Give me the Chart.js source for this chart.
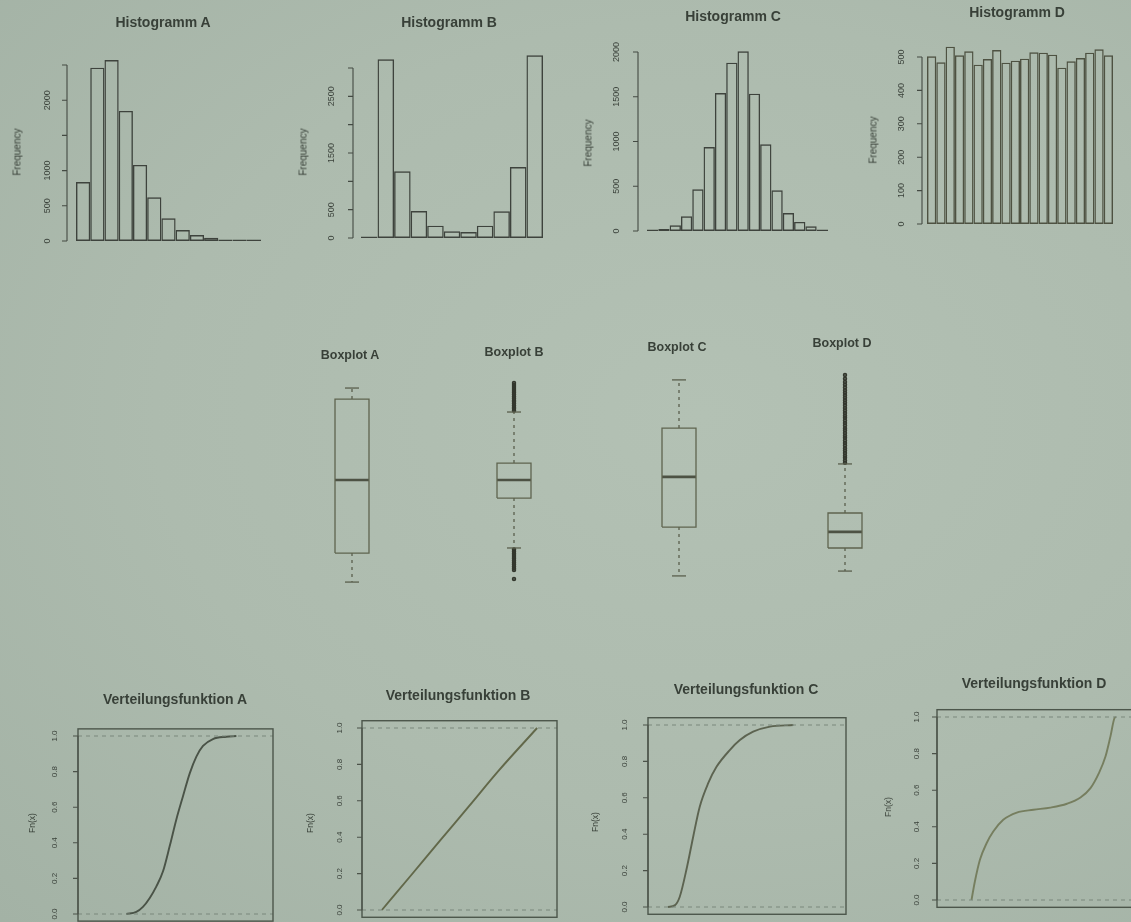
<!DOCTYPE html>
<html><head><meta charset="utf-8">
<script src="https://cdn.jsdelivr.net/npm/chart.js@4.4.1/dist/chart.umd.min.js"></script>
<style>
html,body{margin:0;padding:0;width:1131px;height:922px;overflow:hidden;background:#aab9ab;}
#stage{position:relative;width:1131px;height:922px;overflow:hidden;
  background:radial-gradient(ellipse at 62% 45%, #b3c1b4 0%, #adbbae 55%, #a3b2a5 100%);filter:blur(0.45px);}
canvas{position:absolute;}
.t{position:absolute;transform:translate(-50%,-50%);white-space:nowrap;font-family:"Liberation Sans",Arial,sans-serif;color:#384038;}
.title{font-weight:bold;font-size:14px;}
.btitle{font-weight:bold;font-size:12.5px;}
.ylab{font-size:10px;transform:translate(-50%,-50%) rotate(-90deg);}
.ylab2{font-size:8.5px;transform:translate(-50%,-50%) rotate(-90deg);}
</style></head><body><div id="stage"></div>
<script>
// ---------------- DATA ----------------
// Histogram counts (bins are equal width)
const histA_bins = ["1","2","3","4","5","6","7","8","9","10","11","12","13"];
const histA_counts = [838, 2462, 2571, 1847, 1080, 620, 322, 156, 85, 45, 20, 9, 4];
const histA_ticks = [0, 500, 1000, 1500, 2000, 2500];
const histA_tickLabels = ["0", "500", "1000", "", "2000", ""];

const histB_bins = ["1","2","3","4","5","6","7","8","9","10","11"];
const histB_counts = [10, 3153, 1176, 476, 218, 118, 105, 218, 470, 1253, 3223];
const histB_ticks = [0, 500, 1000, 1500, 2000, 2500, 3000];
const histB_tickLabels = ["0", "500", "", "1500", "", "2500", ""];

const histC_bins = ["1","2","3","4","5","6","7","8","9","10","11","12","13","14","15","16"];
const histC_counts = [3, 22, 63, 164, 466, 938, 1542, 1881, 2007, 1534, 968, 454, 201, 101, 52, 15];
const histC_ticks = [0, 500, 1000, 1500, 2000];
const histC_tickLabels = ["0", "500", "1000", "1500", "2000"];

const histD_bins = ["1","2","3","4","5","6","7","8","9","10","11","12","13","14","15","16","17","18","19","20"];
const histD_counts = [502, 484, 531, 505, 517, 477, 494, 521, 483, 489, 495, 514, 513, 507, 468, 487, 497, 513, 523, 505];
const histD_ticks = [0, 100, 200, 300, 400, 500];
const histD_tickLabels = ["0", "100", "200", "300", "400", "500"];

// Boxplots: [lower whisker, Q1, median, Q3, upper whisker] (relative units 0..100)
const boxA_stats = [3.6, 16.8, 50.0, 86.8, 91.8];
const boxA_outliers = [];
const boxB_stats = [19.1, 41.8, 50.0, 57.7, 80.9];
const boxB_outliers = [81.6, 82.4, 83.1, 83.9, 84.8, 85.6, 86.3, 87.2, 88.0, 88.9, 89.7, 90.5, 91.4, 92.3, 93.2, 94.1,
                       18.4, 17.6, 16.7, 15.9, 15.0, 14.2, 13.3, 12.4, 11.6, 10.7, 9.9, 9.1, 5.0];
const boxC_stats = [6.4, 28.6, 51.4, 73.6, 95.5];
const boxC_outliers = [];
const boxD_stats = [8.6, 19.1, 26.4, 35.0, 57.3];
const boxD_outliers = [57.8, 58.9, 60.1, 61.0, 62.3, 63.4, 64.4, 65.7, 66.8, 67.9, 69.2, 70.1, 71.4, 72.6, 73.5,
                       74.8, 75.9, 77.0, 78.3, 79.2, 80.5, 81.6, 82.7, 84.0, 85.1, 86.2, 87.4, 88.5, 89.7, 90.8,
                       92.0, 93.3, 94.6, 96.0, 97.7];

// Empirical distribution functions (x in relative units 0..100, Fn(x))
const cdfA_x = [24.8, 29.9, 33.3, 36.8, 40.2, 43.6, 47.0, 50.4, 53.8, 57.3, 60.7, 64.1, 69.2, 76.1, 81.2];
const cdfA_F = [0.0, 0.012, 0.04, 0.09, 0.155, 0.24, 0.38, 0.53, 0.66, 0.79, 0.884, 0.944, 0.983, 0.996, 1.0];
const cdfB_x = [10.2, 25.5, 40.1, 55.0, 70.2, 89.8];
const cdfB_F = [0.0, 0.195, 0.382, 0.572, 0.767, 1.0];
const cdfC_x = [10.1, 13.5, 16.0, 19.7, 22.8, 26.1, 30.4, 34.6, 41.3, 46.4, 53.1, 61.6, 73.4];
const cdfC_F = [0.0, 0.009, 0.055, 0.22, 0.385, 0.55, 0.68, 0.77, 0.862, 0.917, 0.963, 0.991, 1.0];
const cdfD_x = [17.6, 19.3, 21.9, 25.3, 28.7, 33.8, 40.7, 49.2, 57.8, 66.3, 73.2, 78.3, 82.6, 86.0, 88.5, 90.6, 91.3];
const cdfD_F = [0.0, 0.10, 0.22, 0.31, 0.374, 0.438, 0.478, 0.493, 0.505, 0.526, 0.56, 0.611, 0.693, 0.785, 0.894, 0.995, 1.0];
const cdf_ticks = [0, 0.2, 0.4, 0.6, 0.8, 1.0];
const cdf_tickLabels = ["0.0", "0.2", "0.4", "0.6", "0.8", "1.0"];

// Texts
const histTitles = ["Histogramm A", "Histogramm B", "Histogramm C", "Histogramm D"];
const boxTitles = ["Boxplot A", "Boxplot B", "Boxplot C", "Boxplot D"];
const cdfTitles = ["Verteilungsfunktion A", "Verteilungsfunktion B", "Verteilungsfunktion C", "Verteilungsfunktion D"];
const histYLabel = "Frequency";
const cdfYLabel = "Fn(x)";

// ---------------- LAYOUT / STYLE ----------------
const stage = document.getElementById('stage');
const FONT = '"Liberation Sans", Arial, sans-serif';
const TEXT = '#3a413a';

function makeCanvas(area, m){
  const x = Math.round(area.l - m.l), y = Math.round(area.t - m.t);
  const w = Math.ceil(area.r + m.r - x), h = Math.ceil(area.b + m.b - y);
  const c = document.createElement('canvas');
  c.width = w; c.height = h;
  c.style.left = x + 'px'; c.style.top = y + 'px';
  c.style.width = w + 'px'; c.style.height = h + 'px';
  stage.appendChild(c);
  return {c, padding:{left: area.l - x, top: area.t - y, right: x + w - area.r, bottom: y + h - area.b}};
}

function rAxisPlugin(o){
  return {id:'rAxis', afterDatasetsDraw(chart){
    const y = chart.scales.y, ctx = chart.ctx, a = chart.chartArea;
    const ax = a.left - o.gap;
    ctx.save();
    if (o.frame){
      ctx.strokeStyle = o.frame; ctx.lineWidth = 1.4;
      ctx.strokeRect(a.left, a.top, a.right - a.left, a.bottom - a.top);
    }
    ctx.strokeStyle = o.color; ctx.lineWidth = 1.1;
    ctx.beginPath();
    ctx.moveTo(ax, y.getPixelForValue(o.ticks[0]));
    ctx.lineTo(ax, y.getPixelForValue(o.ticks[o.ticks.length - 1]));
    o.ticks.forEach(v => { const p = y.getPixelForValue(v); ctx.moveTo(ax, p); ctx.lineTo(ax - o.tickLen, p); });
    ctx.stroke();
    ctx.fillStyle = TEXT; ctx.font = o.font; ctx.textAlign = 'center'; ctx.textBaseline = 'middle';
    o.ticks.forEach((v, i) => {
      const lab = o.labels[i]; if (!lab) return;
      const p = y.getPixelForValue(v);
      ctx.save(); ctx.translate(ax - o.labelDist, p); ctx.rotate(-Math.PI / 2); ctx.fillText(lab, 0, 0); ctx.restore();
    });
    ctx.restore();
  }};
}

function baseOptions(padding, xs, ys){
  return {responsive:false, animation:false, events:[],
    layout:{padding},
    plugins:{legend:{display:false}, tooltip:{enabled:false}, title:{display:false}},
    scales:{x:xs, y:ys}};
}

// Histograms
const HIST_LAYOUT = [
  {x0:76,  x1:261,  y0:241, refVal:2500, refPx:65, yMax:2700, gap:9, labelDist:19, color:'#3e433d'},
  {x0:361, x1:543,  y0:238, refVal:3000, refPx:68, yMax:3300, gap:8, labelDist:21, color:'#3e433d'},
  {x0:647, x1:828,  y0:231, refVal:2000, refPx:52, yMax:2150, gap:9, labelDist:21, color:'#3e433d'},
  {x0:927, x1:1113, y0:224, refVal:500,  refPx:57, yMax:560,  gap:5, labelDist:20, color:'#4e5242'}
];
const histData = [
  [histA_bins, histA_counts, histA_ticks, histA_tickLabels],
  [histB_bins, histB_counts, histB_ticks, histB_tickLabels],
  [histC_bins, histC_counts, histC_ticks, histC_tickLabels],
  [histD_bins, histD_counts, histD_ticks, histD_tickLabels]
];
histData.forEach((d, i) => {
  const L = HIST_LAYOUT[i];
  const top = L.y0 - (L.y0 - L.refPx) / L.refVal * L.yMax;
  const cv = makeCanvas({l:L.x0, r:L.x1, t:top, b:L.y0}, {l:70, t:10, r:10, b:10});
  new Chart(cv.c, {
    type:'bar',
    data:{labels:d[0], datasets:[{data:d[1], backgroundColor:'rgba(0,0,0,0)', borderColor:L.color,
      borderWidth:1.4, borderSkipped:false, categoryPercentage:1, barPercentage:1, minBarLength:1.6,
      inflateAmount:0, clip:false}]},
    options: baseOptions(cv.padding, {display:false}, {display:false, min:0, max:L.yMax}),
    plugins:[rAxisPlugin({ticks:d[2], labels:d[3], gap:L.gap, tickLen:5, labelDist:L.labelDist,
      color:'#444a43', font:'9px ' + FONT})]
  });
});

// Boxplots
const BOX_LAYOUT = {centers:[352, 514, 679, 845], top:370, bottom:590, width:140, half:0.1214, cap:0.05};
const boxData = [[boxA_stats, boxA_outliers],[boxB_stats, boxB_outliers],[boxC_stats, boxC_outliers],[boxD_stats, boxD_outliers]];
boxData.forEach((d, i) => {
  const cx = BOX_LAYOUT.centers[i];
  const cv = makeCanvas({l:cx - BOX_LAYOUT.width/2, r:cx + BOX_LAYOUT.width/2, t:BOX_LAYOUT.top, b:BOX_LAYOUT.bottom}, {l:6, t:8, r:6, b:8});
  const s = d[0], h = BOX_LAYOUT.half, c = BOX_LAYOUT.cap, m = 0.5;
  const boxCol = '#5f644f', whCol = '#5a5f4d';
  const line = (pts, extra) => Object.assign({data:pts, showLine:true, pointRadius:0, borderColor:boxCol,
    borderWidth:1.3, tension:0, clip:false}, extra || {});
  new Chart(cv.c, {
    type:'scatter',
    data:{datasets:[
      line([{x:m-h,y:s[1]},{x:m+h,y:s[1]},{x:m+h,y:s[3]},{x:m-h,y:s[3]},{x:m-h,y:s[1]}]),
      line([{x:m-h,y:s[2]},{x:m+h,y:s[2]}], {borderWidth:2.6, borderColor:'#4d5244'}),
      line([{x:m,y:s[3]},{x:m,y:s[4]}], {borderDash:[3,4], borderColor:whCol}),
      line([{x:m,y:s[1]},{x:m,y:s[0]}], {borderDash:[3,4], borderColor:whCol}),
      line([{x:m-c,y:s[4]},{x:m+c,y:s[4]}], {borderColor:whCol}),
      line([{x:m-c,y:s[0]},{x:m+c,y:s[0]}], {borderColor:whCol}),
      {data:d[1].map(v => ({x:m, y:v})), showLine:false, pointRadius:1.5, pointBorderWidth:1.5,
       pointBorderColor:'#33372d', pointBackgroundColor:'rgba(51,55,45,0.6)', clip:false}
    ]},
    options: baseOptions(cv.padding, {type:'linear', display:false, min:0, max:1}, {type:'linear', display:false, min:0, max:100})
  });
});

// Distribution functions
const CDF_LAYOUT = [
  {l:78,  r:273,  zero:914, one:736, labelDist:23, curve:'#4a5347'},
  {l:362, r:557,  zero:910, one:728, labelDist:22, curve:'#62684a'},
  {l:648, r:846,  zero:907, one:725, labelDist:23, curve:'#5c6350'},
  {l:937, r:1133, zero:900, one:717, labelDist:20, curve:'#767e5f'}
];
const cdfData = [[cdfA_x, cdfA_F],[cdfB_x, cdfB_F],[cdfC_x, cdfC_F],[cdfD_x, cdfD_F]];
cdfData.forEach((d, i) => {
  const L = CDF_LAYOUT[i];
  const u = L.zero - L.one;
  const cv = makeCanvas({l:L.l, r:L.r, t:L.one - 0.04*u, b:L.zero + 0.04*u}, {l:60, t:8, r:8, b:8});
  const dash = (yv) => ({data:[{x:0,y:yv},{x:100,y:yv}], showLine:true, pointRadius:0, borderColor:'#7b887d',
    borderWidth:1, borderDash:[4,4], tension:0});
  new Chart(cv.c, {
    type:'scatter',
    data:{datasets:[
      dash(0), dash(1),
      {data:d[0].map((x, k) => ({x, y:d[1][k]})), showLine:true, pointRadius:0, borderColor:L.curve,
       borderWidth:1.9, cubicInterpolationMode:'monotone', clip:false}
    ]},
    options: baseOptions(cv.padding, {type:'linear', display:false, min:0, max:100}, {type:'linear', display:false, min:-0.04, max:1.04}),
    plugins:[rAxisPlugin({ticks:cdf_ticks, labels:cdf_tickLabels, gap:0, tickLen:5, labelDist:L.labelDist,
      color:'#4b5249', font:'8px ' + FONT, frame:'#4c564b'})]
  });
});

// Texts (titles and axis labels)
function text(str, x, y, cls){
  const d = document.createElement('div'); d.className = 't ' + cls; d.textContent = str;
  d.style.left = x + 'px'; d.style.top = y + 'px'; stage.appendChild(d);
}
const HIST_TITLE_POS = [[163,22],[449,22],[733,16],[1017,12]];
const HIST_YLAB_POS = [[17,152],[303,152],[588,143],[873,140]];
const BOX_TITLE_POS = [[350,355],[514,352],[677,347],[842,343]];
const CDF_TITLE_POS = [[175,699],[458,695],[746,689],[1034,683]];
const CDF_YLAB_POS = [[32,823],[310,823],[595,822],[888,807]];
histTitles.forEach((t, i) => text(t, HIST_TITLE_POS[i][0], HIST_TITLE_POS[i][1], 'title'));
histTitles.forEach((t, i) => text(histYLabel, HIST_YLAB_POS[i][0], HIST_YLAB_POS[i][1], 'ylab'));
boxTitles.forEach((t, i) => text(t, BOX_TITLE_POS[i][0], BOX_TITLE_POS[i][1], 'btitle'));
cdfTitles.forEach((t, i) => text(t, CDF_TITLE_POS[i][0], CDF_TITLE_POS[i][1], 'title'));
cdfTitles.forEach((t, i) => text(cdfYLabel, CDF_YLAB_POS[i][0], CDF_YLAB_POS[i][1], 'ylab2'));
</script>
</body></html>
